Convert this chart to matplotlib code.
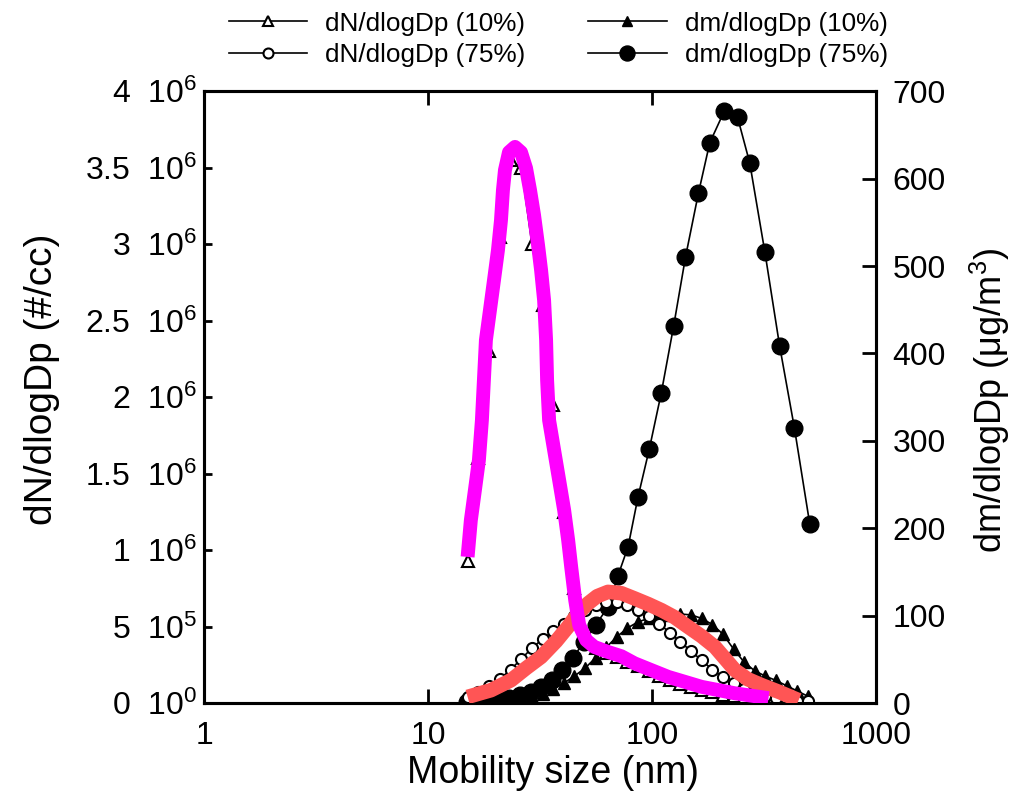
import matplotlib
matplotlib.use("Agg")
import matplotlib.pyplot as plt
from matplotlib.ticker import FixedLocator, FixedFormatter, NullLocator

plt.rcParams['font.family'] = ['Liberation Sans', 'DejaVu Sans']
plt.rcParams['mathtext.fontset'] = 'custom'
plt.rcParams['mathtext.rm'] = 'Liberation Sans'
plt.rcParams['mathtext.it'] = 'Liberation Sans:italic'
plt.rcParams['mathtext.bf'] = 'Liberation Sans:bold'

# ---- data ----
bins = [15.1, 16.8, 18.8, 21.0, 23.4, 26.1, 29.1, 32.5, 36.2, 40.4, 45.0, 50.2,
        56.0, 62.5, 69.7, 77.7, 86.6, 96.6, 107.7, 120.1, 134.0, 149.4, 166.6,
        185.8, 207.2, 231.1, 257.7, 287.4, 320.5, 357.4, 398.6, 444.5, 495.7]

dN_10 = [9.3e5, 1.6e6, 2.3e6, 3.05e6, 3.55e6, 3.5e6, 3.0e6, 2.6e6, 1.95e6, 1.25e6,
         7.5e5, 4.5e5, 3.6e5, 3.3e5, 3.0e5, 2.7e5, 2.4e5, 2.1e5, 1.8e5, 1.5e5,
         1.25e5, 1.05e5, 8.5e4, 7e4, 5.5e4, 4.5e4, 3.5e4, 2.7e4, 2e4, 1.5e4,
         1.1e4, 8e3, 5e3]

dN_75 = [4e4, 7e4, 1.1e5, 1.6e5, 2.2e5, 2.9e5, 3.6e5, 4.2e5, 4.7e5, 5.2e5, 5.7e5,
         6.1e5, 6.4e5, 6.6e5, 6.6e5, 6.4e5, 6.1e5, 5.7e5, 5.2e5, 4.6e5, 4.0e5,
         3.4e5, 2.8e5, 2.2e5, 1.7e5, 1.3e5, 9.5e4, 7e4, 5e4, 3.5e4, 2.5e4,
         1.7e4, 1.2e4]

dm_10 = [0.3, 0.6, 1, 1.5, 2, 4, 7, 11, 16, 23, 31, 40, 52, 64, 76, 86, 93, 97,
         100, 101, 102, 101, 97, 90, 79, 62, 47, 37, 31, 26, 20, 14, 8]

dp_m75 = [15.0, 16.7, 18.6, 20.7, 23.1, 25.8, 28.7, 32.0, 35.7, 39.8, 44.4, 49.6,
          56.2, 63.6, 70.5, 78.2, 86.6, 97.3, 110, 125, 141, 161, 181, 210, 241,
          273, 319, 371, 432, 506]
dm_75 = [1, 2, 3, 4, 6, 9, 13, 19, 27, 38, 52, 70, 90, 110, 146, 179, 236, 291,
         355, 432, 510, 583, 641, 677, 670, 618, 516, 409, 315, 205]

# hand-drawn highlight curves (left axis units)
hl10_dp = [15.02, 15.53, 16.19, 16.87, 17.40, 17.76, 18.13, 18.90, 19.70, 20.52,
           21.17, 21.60, 22.05, 22.98, 24.45, 26.01, 27.39, 28.54, 29.74, 30.99,
           31.97, 32.97, 33.66, 34.01, 34.71, 36.55, 38.49, 40.53, 42.23, 43.56,
           45.40, 47.31, 50.85, 55.21, 63.60, 72.94, 83.42, 99.38, 118.1, 166.4,
           233.9, 331.1]
hl10_n = [9.56e5, 1.196e6, 1.392e6, 1.588e6, 1.850e6, 2.111e6, 2.373e6, 2.569e6,
          2.765e6, 2.961e6, 3.157e6, 3.353e6, 3.484e6, 3.601e6, 3.636e6, 3.601e6,
          3.497e6, 3.353e6, 3.190e6, 2.993e6, 2.830e6, 2.634e6, 2.373e6, 2.111e6,
          1.850e6, 1.654e6, 1.458e6, 1.261e6, 1.065e6, 8.91e5, 6.73e5, 5.10e5,
          4.12e5, 3.68e5, 3.35e5, 3.07e5, 2.61e5, 2.16e5, 1.72e5, 1.07e5, 6.5e4,
          3.3e4]

hl75_dp = [15.02, 19.09, 23.46, 27.39, 31.97, 37.32, 42.10, 46.81, 51.73, 56.94,
           63.60, 72.94, 83.66, 96.36, 110.2, 126.0, 145.1, 166.4, 190.9, 211.0,
           234.6, 267.5, 309.0, 372.0, 451.2]
hl75_n = [4.12e4, 8.50e4, 1.503e5, 2.288e5, 3.026e5, 4.052e5, 4.987e5, 5.882e5,
          6.516e5, 6.994e5, 7.275e5, 7.19e5, 6.843e5, 6.471e5, 6.078e5, 5.621e5,
          4.987e5, 4.379e5, 3.680e5, 2.941e5, 2.157e5, 1.569e5, 1.176e5, 7.19e4,
          1.96e4]

x_ticks = [1, 10, 100, 1000]
x_ticklabels = ['1', '10', '100', '1000']
yl_ticks = [0, 5e5, 1e6, 1.5e6, 2e6, 2.5e6, 3e6, 3.5e6, 4e6]
yl_ticklabels = ['0  10$^0$', '5  10$^5$', '1  10$^6$', '1.5  10$^6$', '2  10$^6$',
                 '2.5  10$^6$', '3  10$^6$', '3.5  10$^6$', '4  10$^6$']
yr_ticks = [0, 100, 200, 300, 400, 500, 600, 700]

# ---- figure ----
fig = plt.figure(figsize=(10.11, 8.0), dpi=100)
ax = fig.add_axes([0.2018, 0.121, 0.6647, 0.765])
ax2 = ax.twinx()
ax.set_zorder(ax2.get_zorder() + 1)
ax.patch.set_visible(False)

l3, = ax2.plot(bins, dm_10, color='black', lw=1.2, marker='^', ms=8.5,
               mfc='black', mec='black', label='dm/dlogDp (10%)')
l4, = ax2.plot(dp_m75, dm_75, color='black', lw=1.2, marker='o', ms=12,
               mfc='black', mec='black', label='dm/dlogDp (75%)')
l1, = ax.plot(bins, dN_10, color='black', lw=1.2, marker='^', ms=8,
              mfc='white', mec='black', mew=1.5, label='dN/dlogDp (10%)')
l2, = ax.plot(bins, dN_75, color='black', lw=1.2, marker='o', ms=8,
              mfc='white', mec='black', mew=1.5, label='dN/dlogDp (75%)')

ax.plot(hl75_dp, hl75_n, color='#FF5555', lw=10.5, solid_capstyle='butt',
        solid_joinstyle='round', zorder=5)
ax.plot(hl10_dp, hl10_n, color='#FF00FF', lw=10, solid_capstyle='butt',
        solid_joinstyle='round', zorder=6)

ax.set_xscale('log')
ax.set_xlim(1, 1000)
ax.set_ylim(0, 4e6)
ax2.set_ylim(0, 700)

ax.xaxis.set_major_locator(FixedLocator(x_ticks))
ax.xaxis.set_major_formatter(FixedFormatter(x_ticklabels))
ax.xaxis.set_minor_locator(NullLocator())
ax.yaxis.set_major_locator(FixedLocator(yl_ticks))
ax.yaxis.set_major_formatter(FixedFormatter(yl_ticklabels))
ax2.yaxis.set_major_locator(FixedLocator(yr_ticks))

for a in (ax, ax2):
    for s in a.spines.values():
        s.set_linewidth(2.2)

ax.tick_params(axis='x', which='major', direction='in', length=10, width=2,
               top=True, labelsize=23, pad=13)
ax.tick_params(axis='y', which='major', direction='in', length=6, width=2,
               labelsize=23, pad=5, colors='black')
ax2.tick_params(axis='y', which='major', direction='in', length=10, width=2,
                labelsize=23, pad=12)

ax.set_xlabel('Mobility size (nm)', fontsize=27)
ax.set_ylabel('dN/dlogDp (#/cc)', fontsize=28)
ax2.set_ylabel('dm/dlogDp (μg/m$^3$)', fontsize=26)
ax.xaxis.set_label_coords(0.52, -0.085)
ax.yaxis.set_label_coords(-0.215, 0.53)
ax2.yaxis.set_label_coords(1.137, 0.495)

fig.legend(handles=[l1, l2, l3, l4], loc='upper left',
           bbox_to_anchor=(0.203, 1.015), ncol=2, frameon=False, fontsize=18.8,
           handlelength=3.0, handletextpad=0.7, columnspacing=2.4,
           labelspacing=0.3, markerscale=0.9)

fig.savefig('out.png', dpi=100)
